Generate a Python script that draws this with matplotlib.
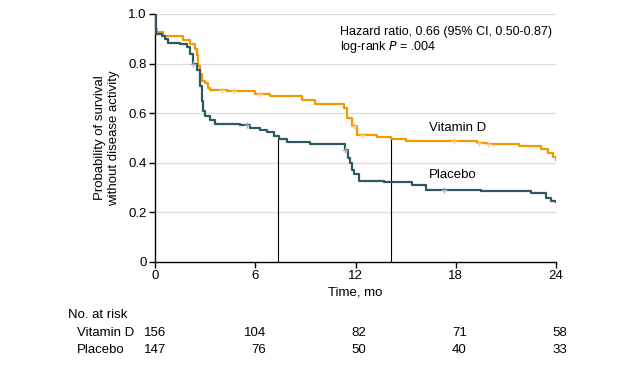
import matplotlib
matplotlib.use("Agg")
import matplotlib.pyplot as plt
from matplotlib import font_manager as fm
import matplotlib.transforms as mtransforms

names = {f.name for f in fm.fontManager.ttflist}
fam = "Liberation Sans Narrow" if "Liberation Sans Narrow" in names else "Liberation Sans"
plt.rcParams['font.family'] = [fam, 'DejaVu Sans']

# Vitamin D arm
vit_t = [0, 0.02, 0.1, 0.5, 1.7, 2.1, 2.4, 2.5, 2.6, 2.7, 2.8, 3.0, 3.2, 3.3, 4.3, 6.0, 6.9,
         8.8, 9.6, 11.3, 11.5, 11.8, 12.1, 13.3, 14.1, 15.0, 19.3, 19.9, 21.8, 23.1, 23.5, 23.8, 24.0]
vit_s = [1.0, 0.94, 0.928, 0.912, 0.895, 0.881, 0.86, 0.835, 0.79, 0.76, 0.73, 0.72, 0.70, 0.695,
         0.688, 0.678, 0.668, 0.655, 0.638, 0.62, 0.58, 0.55, 0.511, 0.503, 0.494, 0.487, 0.48,
         0.474, 0.467, 0.456, 0.44, 0.425, 0.412]
vit_cens_t = [4.0, 4.75, 6.3, 11.9, 12.4, 17.9, 19.4, 19.95]

# Placebo arm
pla_t = [0, 0.05, 0.4, 0.6, 0.8, 1.5, 1.9, 2.1, 2.3, 2.5, 2.7, 2.8, 2.9, 3.0, 3.3, 3.6, 5.1,
         5.7, 6.3, 6.7, 7.1, 7.4, 7.9, 9.3, 11.4, 11.55, 11.7, 11.8, 11.9, 12.2, 13.7, 15.4, 16.2,
         19.5, 22.5, 23.4, 23.7, 24.0]
pla_s = [1.0, 0.92, 0.91, 0.90, 0.883, 0.878, 0.867, 0.84, 0.80, 0.773, 0.71, 0.65, 0.61, 0.59,
         0.574, 0.558, 0.551, 0.541, 0.533, 0.524, 0.51, 0.494, 0.483, 0.474, 0.45, 0.42, 0.40,
         0.37, 0.356, 0.328, 0.321, 0.31, 0.291, 0.285, 0.278, 0.26, 0.245, 0.24]
pla_cens_t = [2.3, 5.5, 11.4, 17.3]

medians = [7.37, 14.1]
median_level = 0.5

risk_times = [0, 6, 12, 18, 24]
risk_vit = [156, 104, 82, 71, 58]
risk_pla = [147, 76, 50, 40, 33]

orange = "#F29A00"
teal = "#2E5962"

def step_val(ts, ss, x):
    v = ss[0]
    for t, s in zip(ts, ss):
        if t <= x:
            v = s
    return v

fig = plt.figure(figsize=(6.42, 3.67), dpi=100)
ax = fig.add_axes([155/642, 1-262/367, 401/642, 248/367])

for y in [0.2, 0.4, 0.6, 0.8, 1.0]:
    ax.axhline(y, color="#DCDCDC", lw=0.9, zorder=0)

for m in medians:
    ax.plot([m, m], [0, median_level], color="black", lw=0.8, zorder=1)

ax.step(vit_t, vit_s, where="post", color=orange, lw=1.6, zorder=3)
ax.step(pla_t, pla_s, where="post", color=teal, lw=1.6, zorder=3)
ax.plot(vit_cens_t, [step_val(vit_t, vit_s, t) for t in vit_cens_t], '+', color="#F8C98A",
        ms=5, mew=0.9, zorder=4)
ax.plot(pla_cens_t, [step_val(pla_t, pla_s, t) for t in pla_cens_t], '+', color="#9AAEB2",
        ms=5, mew=0.9, zorder=4)

ax.set_xlim(0, 24)
ax.set_ylim(0, 1.0)
ax.set_xticks(risk_times)
ax.set_yticks([0, 0.2, 0.4, 0.6, 0.8, 1.0])
ax.set_yticklabels(["0", "0.2", "0.4", "0.6", "0.8", "1.0"])
for s in ["top", "right"]:
    ax.spines[s].set_visible(False)
ax.spines["left"].set_linewidth(1.0)
ax.spines["bottom"].set_linewidth(1.0)
ax.tick_params(axis="both", direction="out", length=4, width=1.0, labelsize=9.5,
               colors="black", pad=2)
ax.set_xlabel("Time, mo", fontsize=9.5, labelpad=3)
ax.set_ylabel("Probability of survival\nwithout disease activity", fontsize=9.5,
              linespacing=1.25, labelpad=6)

ax.text(340/642, 1-35/367, "Hazard ratio, 0.66 (95% CI, 0.50-0.87)", transform=fig.transFigure,
        fontsize=9, ha="left", va="baseline")
ax.text(340/642, 1-50/367, "log-rank $\\mathit{P}$ = .004", transform=fig.transFigure,
        fontsize=9, ha="left", va="baseline")

ax.text(16.4, step_val(vit_t, vit_s, 16.4) + 0.055, "Vitamin D", fontsize=9.5, ha="left", va="center")
ax.text(16.4, step_val(pla_t, pla_s, 16.4) + 0.06, "Placebo", fontsize=9.5, ha="left", va="center")

# Number at risk table
blend = mtransforms.blended_transform_factory(ax.transData, fig.transFigure)
blend_off = mtransforms.offset_copy(blend, fig=fig, x=11, y=0, units="dots")
fig.text(68/642, 1-315/367, "No. at risk", fontsize=9.5, va="center", ha="left")
fig.text(77/642, 1-333/367, "Vitamin D", fontsize=9.5, va="center", ha="left")
fig.text(77/642, 1-350/367, "Placebo", fontsize=9.5, va="center", ha="left")
for t, a, b in zip(risk_times, risk_vit, risk_pla):
    ax.text(t, 1-333/367, str(a), transform=blend_off, fontsize=9.5, va="center", ha="right")
    ax.text(t, 1-350/367, str(b), transform=blend_off, fontsize=9.5, va="center", ha="right")

fig.savefig("out.png", dpi=100)
